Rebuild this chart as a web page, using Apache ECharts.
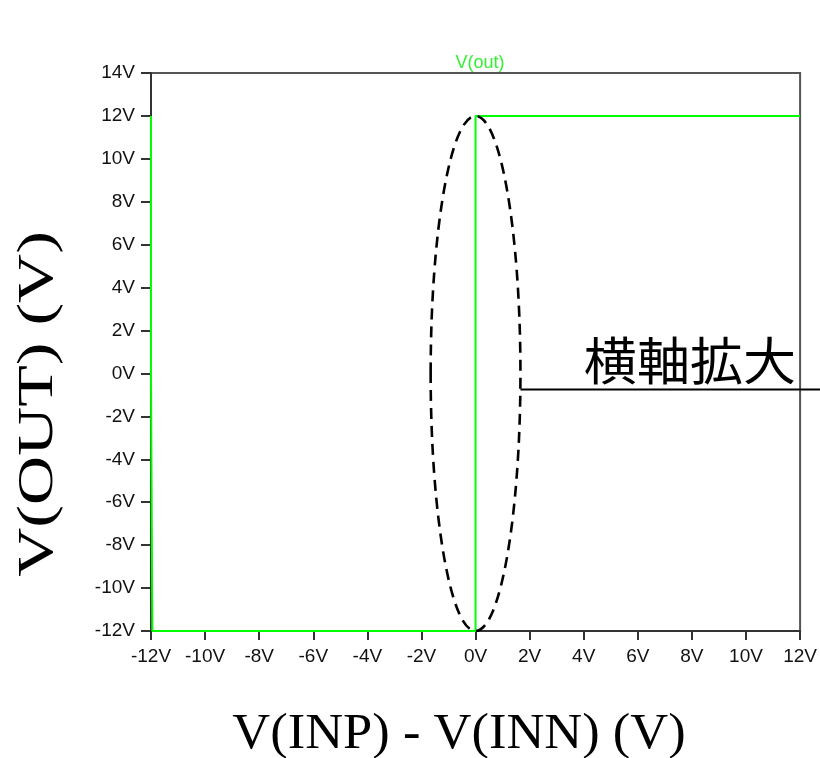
<!DOCTYPE html>
<html>
<head>
<meta charset="utf-8">
<script src="https://cdn.jsdelivr.net/npm/echarts@6/dist/echarts.min.js"></script>
<style>html,body{margin:0;padding:0;background:#fff;}#c{width:820px;height:758px;}</style>
</head>
<body>
<div id="c"></div>
<script>
// Data (V(INP)-V(INN) vs V(out))
const seriesName = 'V(out)';
const xValues = [-12, -12, -11.95, 0, 0, 12];
const yValues = [12, 0, -12, -12, 12, 12];
const xTicks = { min: -12, max: 12, step: 2 };
const yTicks = { min: -12, max: 14, step: 2 };
const xTitle = 'V(INP) - V(INN) (V)';
const yTitle = 'V(OUT) (V)';
const noteText = '横軸拡大';

const chart = echarts.init(document.getElementById('c'), null, { renderer: 'canvas' });
const labelFont = { color: '#111', fontSize: 19, fontFamily: 'Liberation Sans, Arial, sans-serif' };
const option = {
  animation: false,
  backgroundColor: '#fff',
  grid: { left: 151, right: 17, top: 73, bottom: 127, show: true, borderColor: '#555', borderWidth: 2, backgroundColor: 'transparent' },
  title: {
    text: seriesName, left: 475, top: 49, textAlign: 'center',
    textStyle: { color: '#33f033', fontSize: 18, fontWeight: 'normal', fontFamily: 'Liberation Sans, Arial, sans-serif' }
  },
  xAxis: {
    type: 'value', min: xTicks.min, max: xTicks.max, interval: xTicks.step,
    axisLine: { show: true, onZero: false, lineStyle: { color: '#333', width: 2 } },
    axisTick: { show: true, inside: false, length: 9, lineStyle: { color: '#333', width: 2 } },
    axisLabel: Object.assign({ margin: 16, formatter: v => v + 'V' }, labelFont),
    splitLine: { show: false }
  },
  yAxis: {
    type: 'value', min: yTicks.min, max: yTicks.max, interval: yTicks.step,
    axisLine: { show: true, onZero: false, lineStyle: { color: '#333', width: 2 } },
    axisTick: { show: true, inside: false, length: 10, lineStyle: { color: '#333', width: 2 } },
    axisLabel: Object.assign({ margin: 16, formatter: v => v + 'V' }, labelFont),
    splitLine: { show: false }
  },
  series: [{
    name: seriesName, type: 'line', showSymbol: false, symbol: 'none',
    data: xValues.map((x, i) => [x, yValues[i]]),
    lineStyle: { color: '#00ff00', width: 2 }, z: 1
  }]
};
chart.setOption(option);

// Annotation: dashed ellipse around the vertical transition, and a label
const pCenter = chart.convertToPixel({ gridIndex: 0 }, [0, 0]);
const pTop = chart.convertToPixel({ gridIndex: 0 }, [0, 12]);
const pBot = chart.convertToPixel({ gridIndex: 0 }, [0, -12]);
const pSide = chart.convertToPixel({ gridIndex: 0 }, [1.66, -0.75]);
const eRx = pSide[0] - pCenter[0];
const eCy = (pTop[1] + pBot[1]) / 2;
const eRy = (pBot[1] - pTop[1]) / 2;
chart.setOption({
  graphic: [
    { type: 'ellipse', shape: { cx: pCenter[0], cy: eCy, rx: eRx, ry: eRy },
      style: { fill: 'none', stroke: '#000', lineWidth: 2.6, lineDash: [11, 7] }, z: 10 },
    { type: 'line', shape: { x1: pSide[0], y1: pSide[1], x2: 820, y2: pSide[1] },
      style: { stroke: '#000', lineWidth: 2 }, z: 10 },
    { type: 'text', x: 796, y: pSide[1] - 3, scaleX: 1.04,
      style: { text: noteText, fontSize: 51, fontFamily: 'Noto Sans CJK JP', fill: '#000', align: 'right', verticalAlign: 'bottom' }, z: 10 },
    { type: 'text', x: 459, y: 735, scaleX: 1.05,
      style: { text: xTitle, fontSize: 50, fontFamily: 'Liberation Serif, Times New Roman, serif', fill: '#000', align: 'center', verticalAlign: 'middle' }, z: 10 },
    { type: 'text', x: 39, y: 404, rotation: Math.PI / 2, scaleX: 1.36,
      style: { text: yTitle, fontSize: 50, fontFamily: 'Liberation Serif, Times New Roman, serif', fill: '#000', align: 'center', verticalAlign: 'middle' }, z: 10 }
  ]
});
</script>
</body>
</html>
